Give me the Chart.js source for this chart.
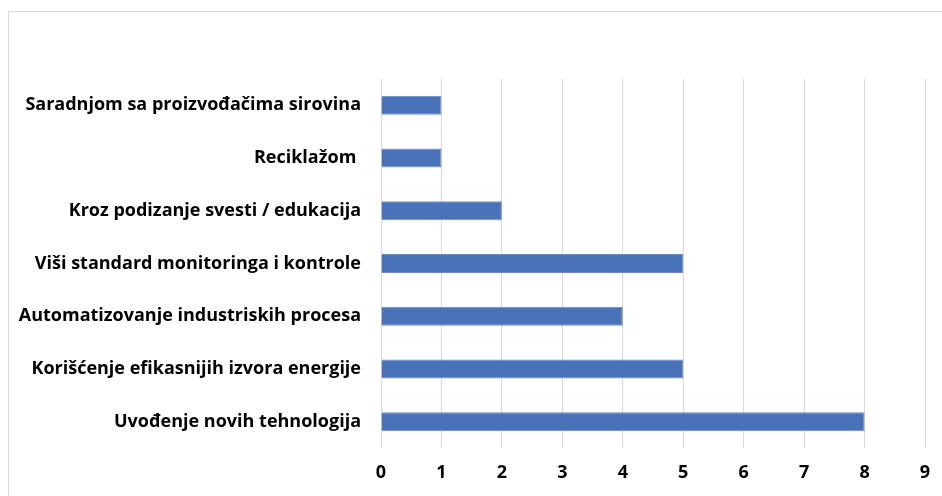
<!DOCTYPE html>
<html>
<head>
<meta charset="utf-8">
<script src="https://cdn.jsdelivr.net/npm/chart.js@4/dist/chart.umd.min.js"></script>
<style>
html,body{margin:0;padding:0;background:#fff;}
#wrap{width:942px;height:496px;position:relative;}
</style>
</head>
<body>
<div id="wrap"><canvas id="c" width="942" height="496"></canvas></div>
<script>
const categories = [
  "Saradnjom sa proizvođačima sirovina",
  "Reciklažom ",
  "Kroz podizanje svesti / edukacija",
  "Viši standard monitoringa i kontrole",
  "Automatizovanje industriskih procesa",
  "Korišćenje efikasnijih izvora energije",
  "Uvođenje novih tehnologija"
];
const values = [1, 1, 2, 5, 4, 5, 8];
const xMin = 0, xMax = 9, xStep = 1;

const frame = {
  id: 'frame',
  beforeDraw(chart) {
    const ctx = chart.ctx;
    ctx.save();
    ctx.fillStyle = '#fff';
    ctx.fillRect(0, 0, chart.width, chart.height);
    ctx.strokeStyle = '#d9d9d9';
    ctx.lineWidth = 1;
    ctx.strokeRect(8.5, 11.5, chart.width, chart.height);
    ctx.restore();
  }
};

new Chart(document.getElementById('c'), {
  type: 'bar',
  data: {
    labels: categories,
    datasets: [{
      data: values,
      backgroundColor: '#4a72b8',
      borderColor: '#6b8cc7',
      borderWidth: 1,
      barPercentage: 0.72,
      categoryPercentage: 0.5
    }]
  },
  options: {
    indexAxis: 'y',
    responsive: false,
    animation: false,
    devicePixelRatio: 1,
    layout: { padding: { left: 8, top: 79, right: 17, bottom: 0 } },
    plugins: { legend: { display: false }, tooltip: { enabled: false } },
    scales: {
      x: {
        min: xMin, max: xMax,
        ticks: { stepSize: xStep, color: '#000', padding: 14,
          font: { family: 'Open Sans', size: 18, weight: 'bold' } },
        grid: { color: '#d9d9d9', lineWidth: 1, drawTicks: false },
        border: { display: false },
        afterFit(s) { s.height = 48; s.paddingLeft = 0; s.paddingRight = 0; }
      },
      y: {
        ticks: { color: '#000', padding: 20,
          font: { family: 'Open Sans', size: 18, weight: 'bold' } },
        grid: { display: false, drawTicks: false },
        border: { display: false },
        afterFit(s) { s.width = 373; s.paddingTop = 0; s.paddingBottom = 0; }
      }
    }
  },
  plugins: [frame]
});
</script>
</body>
</html>
